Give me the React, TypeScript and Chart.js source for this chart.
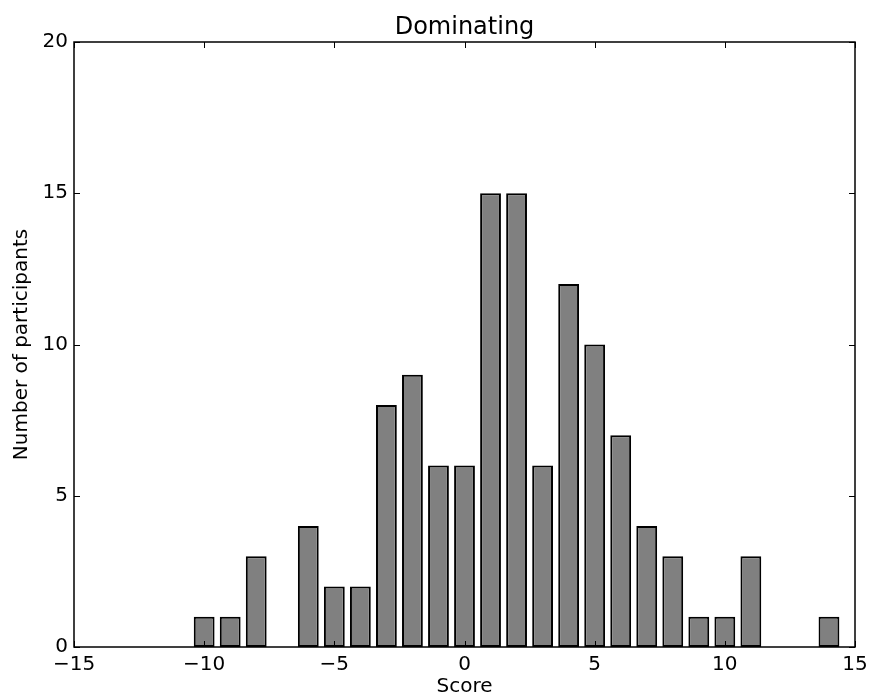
import React, { useEffect, useRef } from "react";
import { Chart, registerables } from "chart.js";

Chart.register(...registerables);

const TITLE = "Dominating";
const X_LABEL = "Score";
const Y_LABEL = "Number of participants";

const scores = [-14, -13, -12, -11, -10, -9, -8, -7, -6, -5, -4, -3, -2, -1, 0, 1, 2, 3, 4, 5, 6, 7, 8, 9, 10, 11, 12, 13, 14];
const counts = [0, 0, 0, 0, 1, 1, 3, 0, 4, 2, 2, 8, 9, 6, 6, 15, 15, 6, 12, 10, 7, 4, 3, 1, 1, 3, 0, 0, 1];

const X_MIN = -15;
const X_MAX = 15;
const X_STEP = 5;
const Y_MIN = 0;
const Y_MAX = 20;
const Y_STEP = 5;

const FONT = "'DejaVu Sans', sans-serif";

const fmt = (v: number) => (v < 0 ? "\u2212" + Math.abs(v) : String(v));

const framePlugin = {
  id: "frameTicks",
  afterDraw(chart: any) {
    const { ctx, chartArea } = chart;
    const { left, right, top, bottom } = chartArea;
    const xs = chart.scales.x;
    const ys = chart.scales.y;
    const tl = 6;
    ctx.save();
    ctx.strokeStyle = "#000";
    ctx.lineWidth = 1;
    ctx.beginPath();
    xs.ticks.forEach((t: any) => {
      const px = Math.round(xs.getPixelForValue(t.value)) + 0.5;
      ctx.moveTo(px, bottom);
      ctx.lineTo(px, bottom - tl);
      ctx.moveTo(px, top);
      ctx.lineTo(px, top + tl);
    });
    ys.ticks.forEach((t: any) => {
      const py = Math.round(ys.getPixelForValue(t.value)) + 0.5;
      ctx.moveTo(left, py);
      ctx.lineTo(left + tl, py);
      ctx.moveTo(right, py);
      ctx.lineTo(right - tl, py);
    });
    ctx.stroke();
    ctx.lineWidth = 1.5;
    ctx.strokeRect(left, top, right - left, bottom - top);
    ctx.restore();
  },
};

export default function App() {
  const ref = useRef<HTMLCanvasElement | null>(null);

  useEffect(() => {
    if (!ref.current) return;
    const data = scores.map((x, i) => ({ x, y: counts[i] }));
    const chart = new Chart(ref.current, {
      type: "bar",
      data: {
        datasets: [
          {
            data: data as any,
            backgroundColor: "#808080",
            borderColor: "#000000",
            borderWidth: 2,
            borderSkipped: false,
            barPercentage: 0.8,
            categoryPercentage: 1.0,
          },
        ],
      },
      options: {
        animation: false,
        responsive: false,
        layout: { padding: { left: 0, right: 17, top: 0, bottom: 0 } },
        plugins: {
          legend: { display: false },
          tooltip: { enabled: false },
          title: {
            display: true,
            fullSize: false,
            text: TITLE,
            color: "#000",
            font: { family: FONT, size: 24, weight: "normal" },
            padding: { top: 13, bottom: 0.2 },
          },
        },
        scales: {
          x: {
            type: "linear",
            min: X_MIN,
            max: X_MAX,
            offset: false,
            grid: { display: false, drawTicks: false },
            border: { display: false },
            ticks: {
              stepSize: X_STEP,
              color: "#000",
              font: { family: FONT, size: 20 },
              padding: 6,
              maxRotation: 0,
              callback: (v: any) => fmt(Number(v)),
            },
            title: {
              display: true,
              text: X_LABEL,
              color: "#000",
              font: { family: FONT, size: 20 },
              padding: { top: 0, bottom: 0 },
            },
            afterFit: (s: any) => {
              s.height = 52;
              s.paddingLeft = 0;
              s.paddingRight = 0;
            },
          },
          y: {
            min: Y_MIN,
            max: Y_MAX,
            grid: { display: false, drawTicks: false },
            border: { display: false },
            ticks: {
              stepSize: Y_STEP,
              color: "#000",
              font: { family: FONT, size: 20 },
              padding: 6,
              callback: (v: any) => fmt(Number(v)),
            },
            title: {
              display: true,
              text: Y_LABEL,
              color: "#000",
              font: { family: FONT, size: 20 },
              padding: { top: 10, bottom: 0 },
            },
            afterFit: (s: any) => {
              s.width = 74;
              s.paddingTop = 0;
              s.paddingBottom = 0;
            },
          },
        },
      },
      plugins: [framePlugin],
    });
    return () => chart.destroy();
  }, []);

  return (
    <div style={{ position: "fixed", left: 0, top: 0, width: 872, height: 699, background: "#fff" }}>
      <canvas ref={ref} width={872} height={699} style={{ display: "block" }} />
    </div>
  );
}
